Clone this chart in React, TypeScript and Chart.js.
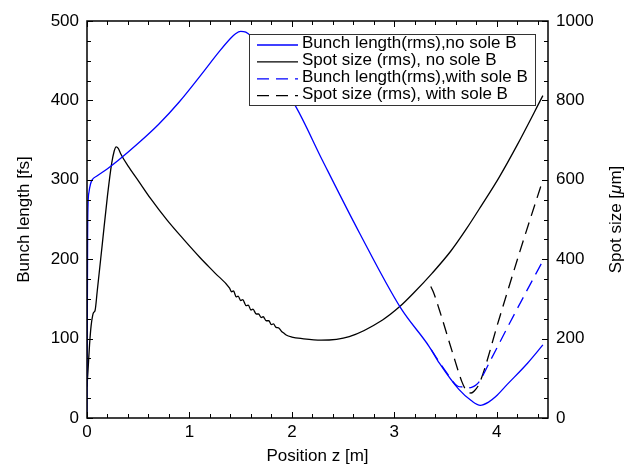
import React, { useEffect, useRef } from "react";
import { Chart, registerables } from "chart.js";

Chart.register(...registerables);

const FONT = "'Liberation Sans', Arial, Helvetica, sans-serif";

// Bunch length (rms), no sole B  [fs] vs position z [m]
const blueZ = [0, 0.003, 0.006, 0.01, 0.02, 0.035, 0.05, 0.1, 0.2, 0.3, 0.5, 0.7, 0.9, 1.1, 1.3, 1.4, 1.45, 1.5, 1.55, 1.6, 1.7, 1.8, 1.9, 2.03, 2.3, 2.66, 3.06, 3.34, 3.44, 3.63, 3.75, 3.84, 3.92, 3.99, 4.1, 4.3, 4.45];
const blueFs = [0, 120, 230, 268, 285, 295, 300, 305, 314, 324, 346, 370, 398, 430, 463, 478, 484, 487, 486, 481, 463, 441, 418, 394, 324, 233, 139, 90, 69, 36, 22, 16, 20, 27, 42, 69, 92];

// Spot size (rms), no sole B  [um]
const spotZ = [0, 0.01, 0.025, 0.04, 0.055, 0.065, 0.078, 0.1, 0.15, 0.2, 0.24, 0.265, 0.285, 0.305, 0.33, 0.4, 0.5, 0.62, 0.78, 0.95, 1.1, 1.25, 1.392, 1.41, 1.43, 1.457, 1.475, 1.5, 1.52, 1.554, 1.575, 1.6, 1.62, 1.652, 1.675, 1.7, 1.72, 1.749, 1.775, 1.8, 1.82, 1.846, 1.87, 1.9, 1.92, 1.944, 2.0, 2.1, 2.285, 2.56, 2.885, 3.05, 3.2, 3.37, 3.55, 3.7, 3.85, 4.02, 4.2, 4.45];
const spotUm = [79, 120, 185, 232, 258, 266, 270, 320, 440, 560, 640, 672, 683, 679, 665, 635, 598, 553, 499, 448, 405, 365, 327, 318, 320, 305, 307, 296, 298, 283, 284, 272, 274, 262, 262, 253, 255, 245, 245, 235, 237, 228, 227, 218, 214, 209, 204, 200, 196, 205, 247, 280, 318, 365, 420, 475, 535, 605, 688, 812];

// Bunch length (rms), with sole B  [fs]
const blueBZ = [3.36, 3.5, 3.62, 3.67, 3.72, 3.76, 3.8, 3.83, 3.94, 4.12, 4.3, 4.45];
const blueBFs = [86, 59, 40, 39, 38, 39, 42, 46, 73, 118, 162, 198];

// Spot size (rms), with sole B  [um]
const spotBZ = [3.356, 3.38, 3.44, 3.57, 3.66, 3.7, 3.725, 3.75, 3.78, 3.83, 4.02, 4.22, 4.45];
const spotBUm = [331, 318, 272, 163, 91, 70, 64, 63, 68, 87, 247, 415, 600];

const legendLabels = [
  "Bunch length(rms),no sole B",
  "Spot size (rms), no sole B",
  "Bunch length(rms),with sole B",
  "Spot size (rms), with sole B",
];
const legendColors = ["#0000ff", "#000000", "#0000ff", "#000000"];
const legendDashed = [false, false, true, true];

const xTitle = "Position z [m]";
const yTitle = "Bunch length [fs]";
const y2TitleParts = ["Spot size [", "\u03bc", "m]"];

const DASH = [12, 7];

export default function App() {
  const ref = useRef<HTMLCanvasElement>(null);

  useEffect(() => {
    if (!ref.current) return;
    const pts = (xs: number[], ys: number[]) => xs.map((x, i) => ({ x, y: ys[i] }));

    const framePlugin = {
      id: "frameTicks",
      afterDatasetsDraw(chart: any) {
        const { ctx, chartArea: a, scales } = chart;
        const sx = scales.x, sy = scales.y, sy2 = scales.y2;
        ctx.save();
        ctx.strokeStyle = "#000";
        ctx.lineWidth = 1;
        ctx.beginPath();
        for (let k = 0; k <= 22; k++) {
          const px = Math.round(sx.getPixelForValue(k * 0.2)) + 0.5;
          const L = k % 5 === 0 ? 6 : 4;
          ctx.moveTo(px, a.bottom); ctx.lineTo(px, a.bottom - L);
          ctx.moveTo(px, a.top); ctx.lineTo(px, a.top + L);
        }
        for (let k = 0; k <= 20; k++) {
          const L = k % 4 === 0 ? 6 : 4;
          const py = Math.round(sy.getPixelForValue(k * 25)) + 0.5;
          ctx.moveTo(a.left, py); ctx.lineTo(a.left + L, py);
          const py2 = Math.round(sy2.getPixelForValue(k * 50)) + 0.5;
          ctx.moveTo(a.right, py2); ctx.lineTo(a.right - L, py2);
        }
        ctx.stroke();
        ctx.lineWidth = 1.5;
        ctx.strokeRect(a.left, a.top, a.right - a.left, a.bottom - a.top);
        ctx.restore();
      },
      afterDraw(chart: any) {
        const { ctx, chartArea: a } = chart;
        ctx.save();
        // legend
        const bw = 286, bh = 71;
        const bx = a.right - 13 - bw, by = a.top + 13;
        ctx.fillStyle = "#fff";
        ctx.fillRect(bx, by, bw, bh);
        ctx.strokeStyle = "#333";
        ctx.lineWidth = 1;
        ctx.strokeRect(bx + 0.5, by + 0.5, bw, bh);
        ctx.font = `17px ${FONT}`;
        ctx.textBaseline = "alphabetic";
        ctx.textAlign = "left";
        for (let i = 0; i < legendLabels.length; i++) {
          const ly = by + 11 + i * 16.9;
          ctx.strokeStyle = legendColors[i];
          ctx.lineWidth = 1.3;
          ctx.setLineDash(legendDashed[i] ? DASH : []);
          ctx.beginPath();
          ctx.moveTo(bx + 8, ly);
          ctx.lineTo(bx + 49, ly);
          ctx.stroke();
          ctx.setLineDash([]);
          ctx.fillStyle = "#000";
          ctx.fillText(legendLabels[i], bx + 53, by + 14.3 + i * 16.9);
        }
        // right axis title, reading bottom to top, italic mu
        const fN = `17px ${FONT}`, fI = `italic 17px ${FONT}`;
        ctx.font = fN;
        const w0 = ctx.measureText(y2TitleParts[0]).width;
        const w2 = ctx.measureText(y2TitleParts[2]).width;
        ctx.font = fI;
        const w1 = ctx.measureText(y2TitleParts[1]).width;
        const total = w0 + w1 + w2;
        const cy = (a.top + a.bottom) / 2;
        ctx.translate(616, cy);
        ctx.rotate(-Math.PI / 2);
        ctx.textBaseline = "middle";
        ctx.fillStyle = "#000";
        let x0 = -total / 2;
        ctx.font = fN; ctx.fillText(y2TitleParts[0], x0, 0); x0 += w0;
        ctx.font = fI; ctx.fillText(y2TitleParts[1], x0, 0); x0 += w1;
        ctx.font = fN; ctx.fillText(y2TitleParts[2], x0, 0);
        ctx.restore();
      },
    };

    const tickFont = { family: FONT, size: 17 };
    const plain = (v: any) => String(v);

    const chart = new Chart(ref.current, {
      type: "line",
      data: {
        datasets: [
          { label: legendLabels[0], data: pts(blueZ, blueFs), yAxisID: "y", borderColor: "#0000ff", borderWidth: 1.3 },
          { label: legendLabels[1], data: pts(spotZ, spotUm), yAxisID: "y2", borderColor: "#000000", borderWidth: 1.3 },
          { label: legendLabels[2], data: pts(blueBZ, blueBFs), yAxisID: "y", borderColor: "#0000ff", borderWidth: 1.3, borderDash: DASH },
          { label: legendLabels[3], data: pts(spotBZ, spotBUm), yAxisID: "y2", borderColor: "#000000", borderWidth: 1.3, borderDash: DASH },
        ],
      },
      options: {
        animation: false,
        responsive: true,
        maintainAspectRatio: false,
        layout: { padding: { top: 21, left: 0, right: 0, bottom: 0 } },
        elements: {
          point: { radius: 0, hoverRadius: 0 },
          line: { cubicInterpolationMode: "monotone", fill: false },
        },
        plugins: { legend: { display: false }, tooltip: { enabled: false } },
        scales: {
          x: {
            type: "linear",
            position: "bottom",
            min: 0,
            max: 4.5,
            grid: { display: false, drawTicks: false },
            border: { display: false },
            ticks: { stepSize: 1, includeBounds: false, padding: 4, color: "#000", font: tickFont, maxRotation: 0, callback: plain },
            title: { display: true, text: xTitle, color: "#000", font: tickFont, padding: { top: 0, bottom: 6 } },
            afterFit: (s: any) => { s.height = 55; },
          },
          y: {
            type: "linear",
            position: "left",
            min: 0,
            max: 500,
            grid: { display: false, drawTicks: false },
            border: { display: false },
            ticks: { stepSize: 100, padding: 8, color: "#000", font: tickFont, callback: plain },
            title: { display: true, text: yTitle, color: "#000", font: tickFont, padding: { top: 14, bottom: 0 } },
            afterFit: (s: any) => { s.width = 87; },
          },
          y2: {
            type: "linear",
            position: "right",
            min: 0,
            max: 1000,
            grid: { display: false, drawTicks: false },
            border: { display: false },
            ticks: { stepSize: 200, padding: 8, color: "#000", font: tickFont, callback: plain },
            afterFit: (s: any) => { s.width = 78; },
          },
        },
      } as any,
      plugins: [framePlugin],
    });
    return () => chart.destroy();
  }, []);

  return (
    <div style={{ position: "fixed", left: 0, top: 0, width: 626, height: 473, background: "#fff" }}>
      <canvas ref={ref} style={{ display: "block", width: 626, height: 473 }} />
    </div>
  );
}
